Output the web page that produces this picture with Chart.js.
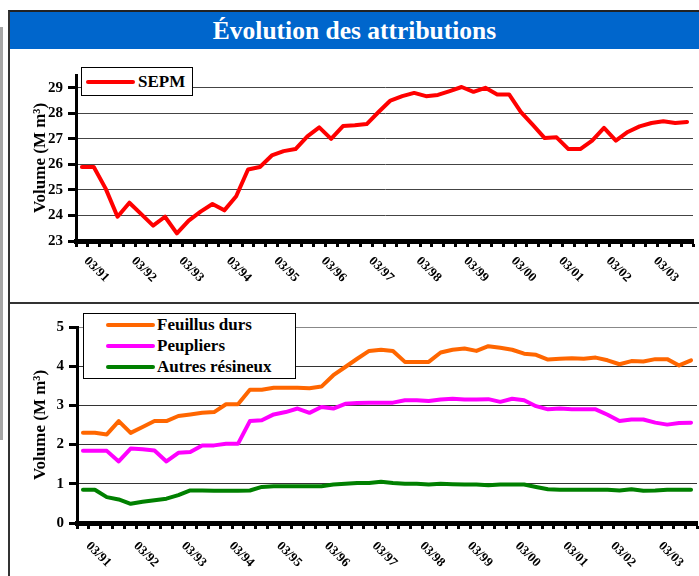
<!DOCTYPE html>
<html lang="fr">
<head>
<meta charset="utf-8">
<title>Évolution des attributions</title>
<script src="https://cdn.jsdelivr.net/npm/chart.js@4.4.1/dist/chart.umd.min.js"></script>
<style>
  html, body { margin: 0; padding: 0; background: #fff; }
  body { width: 699px; height: 576px; position: relative; overflow: hidden;
         font-family: "Liberation Serif", "Times New Roman", serif; }
  .side { position: absolute; left: 0; top: 27px; width: 3px; height: 413px; background: #a6a6a6; }
  .frame { position: absolute; left: 8px; top: 10px; width: 691px; height: 566px;
           border-left: 2px solid #333; border-top: 2px solid #222; }
  .titre { position: absolute; left: 10px; top: 12px; width: 689px; height: 37px; background: #0066cc;
           color: #fff; font-weight: bold; font-size: 25.5px; line-height: 37px; text-align: center; }
  .sep { position: absolute; left: 10px; top: 302px; width: 689px; height: 2px; background: #333; }
  canvas { position: absolute; left: 10px; }
  #c1 { top: 49px; }
  #c2 { top: 304px; }
  .leg { position: absolute; box-sizing: border-box; background: #fff; border: 1px solid #000;
         font-weight: bold; font-size: 17px; color: #000; }
  .leg .row { position: absolute; left: 0; right: 0; height: 21px; }
  .leg .ln { position: absolute; height: 4px; top: 9px; border-radius: 2px; }
  .leg .tx { position: absolute; top: 0; line-height: 21px; white-space: nowrap; }
</style>
</head>
<body>
<div class="side"></div>
<div class="frame"></div>
<div class="titre">Évolution des attributions</div>
<canvas id="c1" width="689" height="253"></canvas>
<div class="sep"></div>
<canvas id="c2" width="689" height="272"></canvas>
<div class="leg" id="leg1" style="left:81px;top:67px;width:112px;height:29px;"></div>
<div class="leg" id="leg2" style="left:83px;top:313px;width:213px;height:66px;"></div>

<script>
// trimestres 03/91 -> 12/03
const trimestres = [
  '03/91','06/91','09/91','12/91','03/92','06/92','09/92','12/92',
  '03/93','06/93','09/93','12/93','03/94','06/94','09/94','12/94',
  '03/95','06/95','09/95','12/95','03/96','06/96','09/96','12/96',
  '03/97','06/97','09/97','12/97','03/98','06/98','09/98','12/98',
  '03/99','06/99','09/99','12/99','03/00','06/00','09/00','12/00',
  '03/01','06/01','09/01','12/01','03/02','06/02','09/02','12/02',
  '03/03','06/03','09/03','12/03'
];
const etiquettesX = ['03/91','03/92','03/93','03/94','03/95','03/96','03/97',
  '03/98','03/99','03/00','03/01','03/02','03/03'];

const sepm = [25.9, 25.9, 25.05, 23.95, 24.5, 24.05, 23.6, 23.95, 23.3, 23.8,
  24.15, 24.45, 24.2, 24.75, 25.8, 25.9, 26.35, 26.52, 26.6, 27.1,
  27.45, 27.0, 27.5, 27.53, 27.58, 28.05, 28.5, 28.67, 28.8, 28.67,
  28.72, 28.87, 29.03, 28.84, 29.0, 28.74, 28.74, 28.05, 27.55, 27.03,
  27.06, 26.6, 26.6, 26.93, 27.43, 26.93, 27.27, 27.49, 27.62, 27.69,
  27.62, 27.66];

const feuillus = [2.30, 2.30, 2.26, 2.60, 2.30, 2.45, 2.60, 2.60, 2.73, 2.77,
  2.81, 2.83, 3.03, 3.03, 3.40, 3.40, 3.45, 3.45, 3.45, 3.44,
  3.48, 3.77, 3.98, 4.19, 4.39, 4.42, 4.39, 4.11, 4.11, 4.11,
  4.35, 4.42, 4.45, 4.39, 4.51, 4.47, 4.42, 4.32, 4.29, 4.17,
  4.19, 4.20, 4.19, 4.22, 4.15, 4.05, 4.13, 4.12, 4.18, 4.18,
  4.02, 4.15];

const peupliers = [1.84, 1.84, 1.84, 1.57, 1.90, 1.88, 1.85, 1.57, 1.79, 1.81,
  1.98, 1.98, 2.02, 2.02, 2.60, 2.62, 2.77, 2.83, 2.92, 2.81,
  2.96, 2.92, 3.04, 3.06, 3.07, 3.07, 3.07, 3.13, 3.13, 3.11,
  3.15, 3.17, 3.15, 3.15, 3.16, 3.09, 3.17, 3.13, 2.98, 2.90,
  2.92, 2.90, 2.90, 2.90, 2.76, 2.60, 2.64, 2.64, 2.56, 2.51,
  2.55, 2.56];

const autresResineux = [0.85, 0.85, 0.66, 0.60, 0.49, 0.54, 0.58, 0.62, 0.71, 0.83,
  0.83, 0.82, 0.82, 0.82, 0.83, 0.92, 0.94, 0.94, 0.94, 0.94,
  0.94, 0.98, 1.00, 1.02, 1.02, 1.05, 1.02, 1.00, 1.00, 0.98,
  1.00, 0.99, 0.98, 0.98, 0.96, 0.98, 0.98, 0.98, 0.92, 0.86,
  0.85, 0.85, 0.85, 0.85, 0.85, 0.83, 0.86, 0.82, 0.83, 0.85,
  0.85, 0.85];

const ticksHaut = [23, 24, 25, 26, 27, 28, 29];
const ticksBas = [0, 1, 2, 3, 4, 5];

const serie1 = [{ label: 'SEPM', data: sepm, color: '#ff0000' }];
const serie2 = [
  { label: 'Feuillus durs', data: feuillus, color: '#ff6600' },
  { label: 'Peupliers', data: peupliers, color: '#ff00ff' },
  { label: 'Autres résineux', data: autresResineux, color: '#008000' }
];

const police = '"Liberation Serif", "Times New Roman", serif';

// etiquettes x inclinees vers le bas (comme Excel)
const etiquettesPlugin = {
  id: 'etiquettes',
  afterDraw(chart, args, opts) {
    const xs = chart.scales.x, ctx = chart.ctx;
    ctx.save();
    ctx.font = 'bold 13px ' + police;
    ctx.fillStyle = '#000';
    ctx.textAlign = 'left';
    ctx.textBaseline = 'middle';
    trimestres.forEach((lab, i) => {
      if (!etiquettesX.includes(lab)) return;
      ctx.save();
      ctx.translate(xs.getPixelForValue(i) + opts.dx, xs.top + opts.dy);
      ctx.rotate(Math.PI / 4);
      ctx.fillText(lab, 0, 0);
      ctx.restore();
    });
    ctx.restore();
  }
};

function graphique(id, series, yMin, yMax, yTicks, zone, dy, couleurGrille) {
  const cv = document.getElementById(id);
  const W = cv.width, H = cv.height;
  return new Chart(cv, {
    type: 'line',
    data: {
      labels: trimestres,
      datasets: series.map(s => ({
        label: s.label,
        data: s.data,
        borderColor: s.color,
        backgroundColor: s.color,
        borderWidth: 4,
        pointRadius: 0,
        tension: 0,
        borderJoinStyle: 'round',
        borderCapStyle: 'round',
        fill: false
      }))
    },
    options: {
      responsive: false,
      animation: false,
      layout: { padding: { left: 0, top: zone.top, right: W - zone.right, bottom: 0 } },
      plugins: {
        legend: { display: false },
        tooltip: { enabled: false },
        etiquettes: { dx: zone.dx, dy: dy }
      },
      scales: {
        x: {
          offset: true,
          ticks: { display: false, autoSkip: false },
          grid: { offset: true, drawOnChartArea: false, drawTicks: true,
                  tickLength: 6, tickWidth: 3, tickColor: '#000' },
          border: { color: '#000', width: 5 },
          afterFit: s => { s.height = H - zone.bottom; }
        },
        y: {
          min: yMin,
          max: yMax,
          ticks: { stepSize: 1, color: '#000', padding: 5,
                   font: { family: police, size: 15, weight: 'bold' } },
          grid: { color: couleurGrille, lineWidth: 1, tickLength: 8,
                  tickWidth: 3, tickColor: '#000' },
          border: { color: '#000', width: 3 },
          title: { display: true, text: 'Volume (M m³)', color: '#000',
                   padding: { top: 20, bottom: 0 },
                   font: { family: police, size: 17, weight: 'bold' } },
          afterBuildTicks: s => { s.ticks = yTicks.map(v => ({ value: v })); },
          afterFit: s => { s.width = zone.left; }
        }
      }
    },
    plugins: [etiquettesPlugin]
  });
}

function legende(id, series, rowTop, lineLeft, textLeft) {
  const box = document.getElementById(id);
  series.forEach((s, i) => {
    const row = document.createElement('div');
    row.className = 'row';
    row.style.top = (rowTop + i * 21) + 'px';
    const ln = document.createElement('span');
    ln.className = 'ln';
    ln.style.left = lineLeft + 'px';
    ln.style.width = '49px';
    ln.style.background = s.color;
    const tx = document.createElement('span');
    tx.className = 'tx';
    tx.style.left = textLeft + 'px';
    tx.textContent = s.label;
    row.appendChild(ln);
    row.appendChild(tx);
    box.appendChild(row);
  });
}

graphique('c1', serie1, 23, 29.5, ticksHaut,
  { left: 66, top: 26, right: 683, bottom: 192, dx: 4 }, 18, '#444');
graphique('c2', serie2, 0, 5, ticksBas,
  { left: 67, top: 23, right: 687, bottom: 219, dx: 5 }, 21,
  ctx => (ctx.tick && ctx.tick.value === 5 ? '#888' : '#333'));

legende('leg1', serie1, 3, 4, 56);
legende('leg2', serie2, 0, 22, 73);
</script>
</body>
</html>
